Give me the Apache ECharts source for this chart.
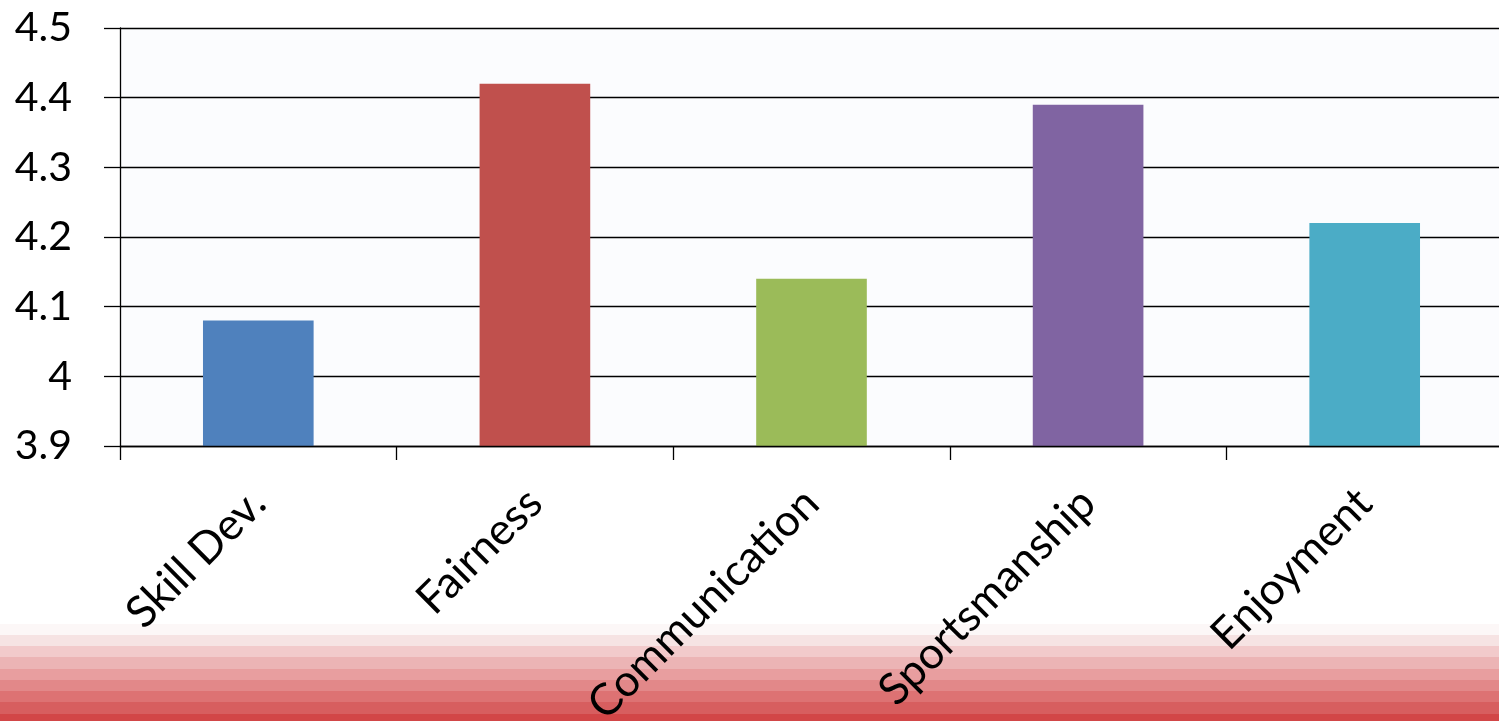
<!DOCTYPE html>
<html>
<head>
<meta charset="utf-8">
<script src="https://cdn.jsdelivr.net/npm/echarts@6/dist/echarts.min.js"></script>
<style>
html,body{margin:0;padding:0;}
#chart{width:1499px;height:721px;
background:linear-gradient(to bottom,#ffffff 0px,#ffffff 624px,#fcf7f7 624px,#fcf7f7 635px,#f6e3e3 635px,#f6e3e3 646px,#f2cacb 646px,#f2cacb 657px,#ecb4b5 657px,#ecb4b5 669px,#e89e9f 669px,#e89e9f 680px,#e28889 680px,#e28889 691px,#dd7273 691px,#dd7273 702px,#d75e5f 702px,#d75e5f 714px,#d24647 714px,#d24647 721px);}
</style>
</head>
<body>
<div id="chart"></div>
<script>
const categories = ['Skill Dev.', 'Fairness', 'Communication', 'Sportsmanship', 'Enjoyment'];
const values = [4.08, 4.42, 4.14, 4.39, 4.22];
const barColors = ['#4F81BD', '#C0504D', '#9BBB59', '#8064A2', '#4BACC6'];
const yMin = 3.9, yMax = 4.5, yStep = 0.1;

const chart = echarts.init(document.getElementById('chart'));
chart.setOption({
  backgroundColor: 'transparent',
  animation: false,
  grid: { left: 120, top: 28, width: 1383, height: 418, show: true, backgroundColor: '#fbfcfe', borderWidth: 0,
          containLabel: false, outerBoundsMode: 'none' },
  xAxis: {
    type: 'category',
    data: categories,
    z: 5,
    axisLine: { show: true, lineStyle: { color: '#000', width: 1.3 } },
    axisTick: { show: true, length: 14, alignWithLabel: false, lineStyle: { color: '#000', width: 1.3 } },
    axisLabel: { rotate: 45, margin: 50, fontFamily: 'Lato', fontSize: 44, color: '#000', interval: 0 }
  },
  yAxis: {
    type: 'value',
    min: yMin, max: yMax, interval: yStep,
    axisLine: { show: true, lineStyle: { color: '#000', width: 1.3 } },
    axisTick: { show: true, length: 16, lineStyle: { color: '#000', width: 1.3 } },
    splitLine: { show: true, lineStyle: { color: '#000', width: 1.3 } },
    axisLabel: { margin: 48, fontFamily: 'Lato', fontSize: 41, color: '#000',
      formatter: v => String(Math.round(v * 10) / 10) }
  },
  series: [{
    type: 'bar',
    barCategoryGap: '60%',
    data: values.map((v, i) => ({ value: v, itemStyle: { color: barColors[i] } }))
  }]
});
</script>
</body>
</html>
